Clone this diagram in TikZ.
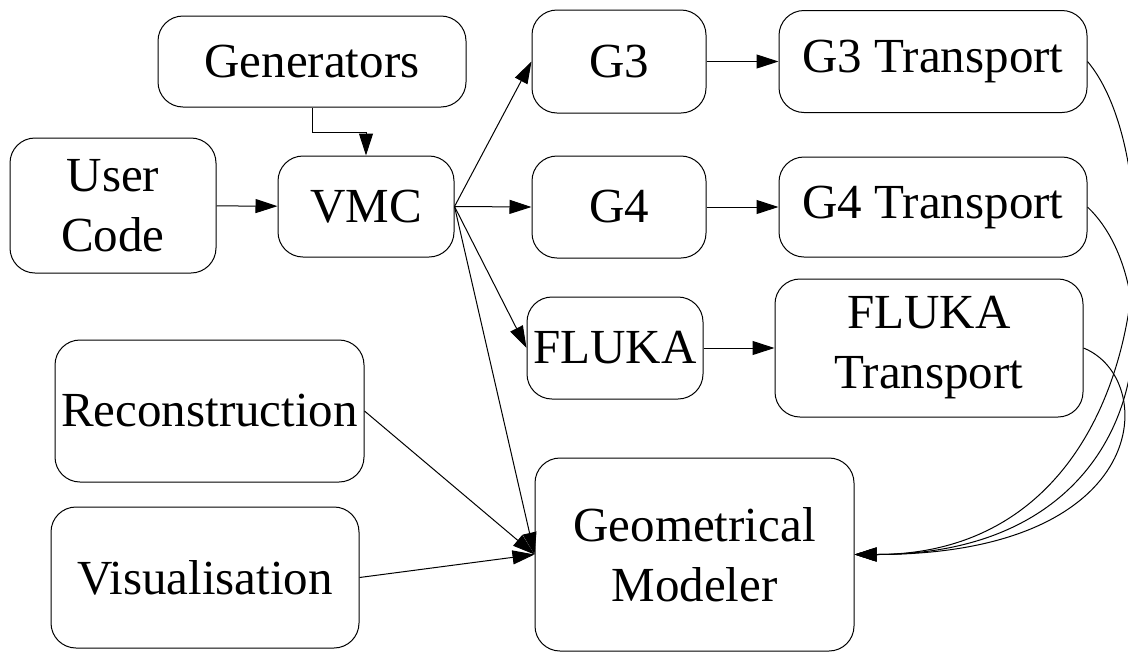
\documentclass[tikz,border=0pt]{standalone}
\usepackage{fontspec}
\setmainfont{Liberation Serif}
\newfontfamily\blockfont{Liberation Serif}
\usetikzlibrary{arrows.meta,positioning}

\begin{document}
\begin{tikzpicture}[->,>={Triangle[length=22pt,width=14pt]},x=1pt,y=-1pt,line width=1pt,node distance=314pt]
	\tikzset{block/.style={draw,rounded corners=25pt,align=center,inner sep=2pt,font=\blockfont\fontsize{49}{60}\selectfont}}
	\useasboundingbox (0,0) rectangle (1128,654);
	\node[block,minimum width=308pt,minimum height=91pt] (gen) at (312,61.5) {Generators};
	\node[block,minimum width=206pt,minimum height=135pt] (user) at (113,205.5) {User\\Code};
	\node[block,minimum width=176pt,minimum height=101pt] (vmc) at (366,206.5) {VMC};
	\node[block,minimum width=174pt,minimum height=103pt] (g3) at (619,61.5) {G3};
	\node[block,minimum width=174pt,minimum height=102pt] (g4) at (619,207) {G4};
	\node[block,minimum width=176pt,minimum height=102pt] (fluka) at (615,348) {FLUKA};
	\node[block,minimum width=308pt,minimum height=102pt] (g3t) [right of=g3] {G3 Transport};
	\node[block,minimum width=308pt,minimum height=100pt] (g4t) [right of=g4] {G4 Transport};
	\node[block,minimum width=308pt,minimum height=138pt] (flukat) [right of=fluka] {FLUKA\\Transport};
	\node[block,minimum width=309pt,minimum height=142pt] (reco) at (209.5,411) {Reconstruction};
	\node[block,minimum width=308pt,minimum height=141pt] (vis) at (205,577.5) {Visualisation};
	\node[block,minimum width=319pt,minimum height=193pt] (geo) at (694.5,554.5) {Geometrical\\Modeler};
	\path
		(user)
			edge (vmc)
		(vmc.east)
			edge (g3.west)
			edge (g4.west)
			edge (fluka.west)
			edge (geo.west)
		(g3)
			edge (g3t)
		(g4)
			edge (g4t)
		(fluka)
			edge (flukat)
		(reco.east)
			edge (geo.west)
		(vis.east)
			edge (geo.west);
	\draw (gen.south) -- ++(0,25) -| (vmc.north);
	% transports back to the modeler
	\draw (g3t.east) .. controls +(85,100) and +(310,0) .. (geo.east);
	\draw (g4t.east) .. controls +(85,80) and +(305,0) .. (geo.east);
	\draw (flukat.east) .. controls +(75,30) and +(300,0) .. (geo.east);
\end{tikzpicture}
\end{document}
